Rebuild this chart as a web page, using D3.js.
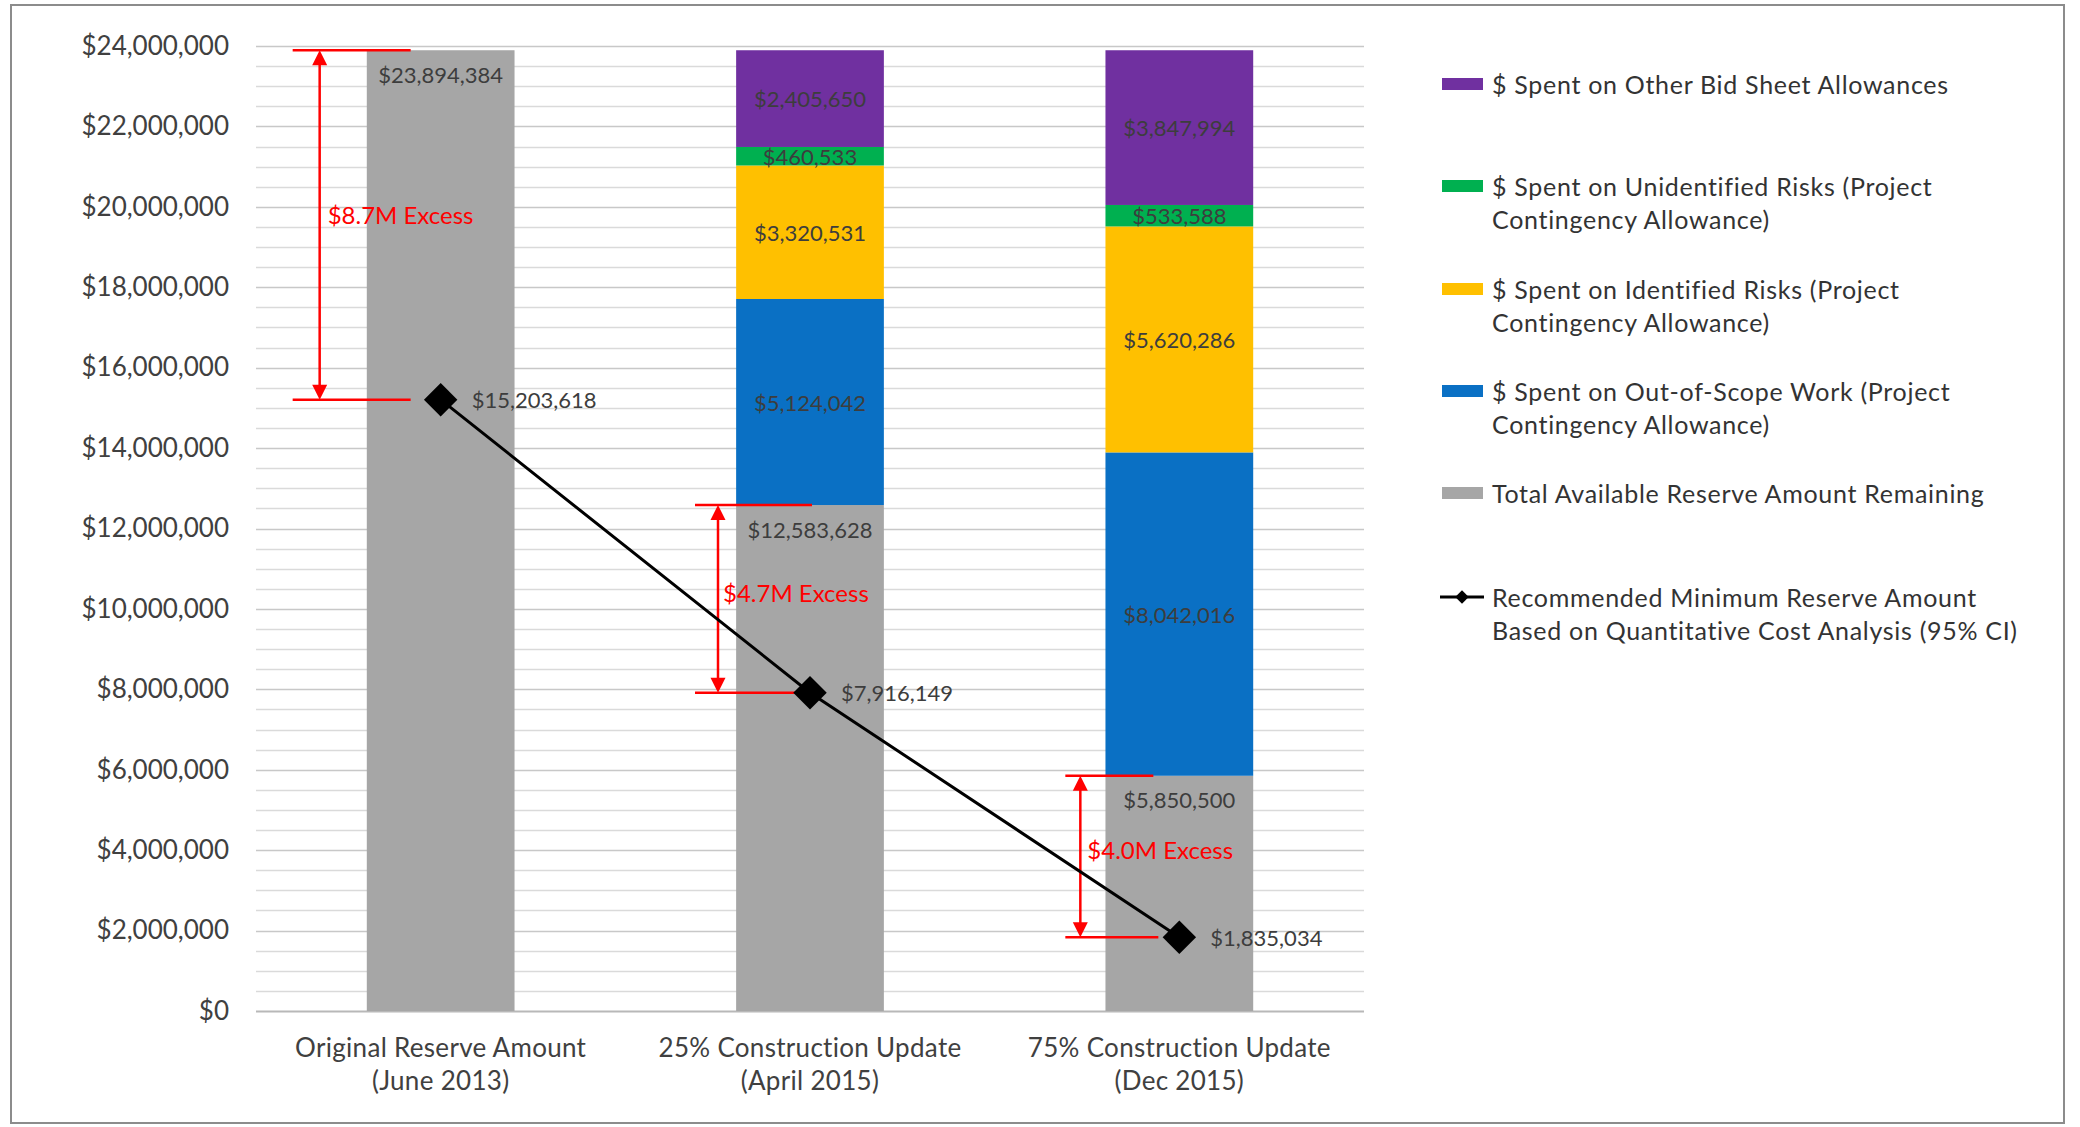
<!DOCTYPE html>
<html>
<head>
<meta charset="utf-8">
<script src="https://cdn.jsdelivr.net/npm/d3@7"></script>
<style>
  body { margin: 0; background: #fff; }
  svg { display: block; }
  text { font-family: Lato, "Open Sans", "DejaVu Sans", sans-serif; }
</style>
</head>
<body>
<svg id="chart" width="2080" height="1127"></svg>
<script>
// ---- data ----
const categories = [
  ["Original Reserve Amount", "(June 2013)"],
  ["25% Construction Update", "(April 2015)"],
  ["75% Construction Update", "(Dec 2015)"]
];
const remaining    = [23894384, 12583628, 5850500];
const outOfScope   = [0, 5124042, 8042016];
const identified   = [0, 3320531, 5620286];
const unidentified = [0, 460533, 533588];
const otherBid     = [0, 2405650, 3847994];
const recommended  = [15203618, 7916149, 1835034];

const yTicks = [0, 2e6, 4e6, 6e6, 8e6, 10e6, 12e6, 14e6, 16e6, 18e6, 20e6, 22e6, 24e6];

const seriesKeys   = ["remaining", "outOfScope", "identified", "unidentified", "otherBid"];
const seriesColors = ["#a6a6a6", "#0a70c4", "#ffc000", "#00b050", "#7030a0"];
const legendLabels = [
  ["$ Spent on Other Bid Sheet Allowances"],
  ["$ Spent on Unidentified Risks (Project", "Contingency Allowance)"],
  ["$ Spent on Identified Risks (Project", "Contingency Allowance)"],
  ["$ Spent on Out-of-Scope Work (Project", "Contingency Allowance)"],
  ["Total Available Reserve Amount Remaining"],
  ["Recommended Minimum Reserve Amount", "Based on Quantitative Cost Analysis (95% CI)"]
];

// ---- setup ----
const svg = d3.select("#chart");
const plot = { left: 256, right: 1364, top: 46, bottom: 1011 };

const rows = categories.map((c, i) => ({
  idx: i,
  remaining: remaining[i],
  outOfScope: outOfScope[i],
  identified: identified[i],
  unidentified: unidentified[i],
  otherBid: otherBid[i]
}));

const x = d3.scaleBand()
  .domain(d3.range(categories.length))
  .range([plot.left, plot.right])
  .paddingInner(0.6)
  .paddingOuter(0.3);

const y = d3.scaleLinear().domain([0, 24e6]).range([plot.bottom, plot.top]);
const cx = i => x(i) + x.bandwidth() / 2;
const money = d3.format("$,.0f");

// outer frame
svg.append("rect")
  .attr("x", 11).attr("y", 5).attr("width", 2053).attr("height", 1118)
  .attr("fill", "none").attr("stroke", "#8c8c8c").attr("stroke-width", 2);

// gridlines every $500K, heavier at labelled ticks
const gridVals = d3.range(0, 24e6 + 1, 5e5);
svg.append("g").selectAll("line")
  .data(gridVals)
  .join("line")
  .attr("x1", plot.left).attr("x2", plot.right)
  .attr("y1", d => Math.round(y(d)) + 0.5).attr("y2", d => Math.round(y(d)) + 0.5)
  .attr("stroke", d => d === 0 ? "#b8b8b8" : (d % 2e6 === 0 ? "#c8c8c8" : "#dadada"))
  .attr("stroke-width", d => d === 0 ? 2 : 1.5);

// y axis labels
const yAxis = d3.axisLeft(y).tickValues(yTicks).tickFormat(money).tickSize(0).tickPadding(0);
const yg = svg.append("g").attr("transform", `translate(229,0)`).call(yAxis);
yg.select(".domain").remove();
yg.selectAll("text")
  .attr("font-size", 26).attr("fill", "#404040")
  .style("font-family", "Lato, 'Open Sans', sans-serif");

// category labels
const xg = svg.append("g");
categories.forEach((lines, i) => {
  const t = xg.append("text")
    .attr("x", cx(i)).attr("y", 1047)
    .attr("text-anchor", "middle")
    .attr("font-size", 26).attr("letter-spacing", 0.3).attr("fill", "#404040");
  lines.forEach((ln, k) => {
    t.append("tspan").attr("x", cx(i)).attr("y", 1047 + k * 33)
      .attr("dominant-baseline", "central").text(ln);
  });
});

// stacked bars
const stacked = d3.stack().keys(seriesKeys)(rows);
const barG = svg.append("g");
stacked.forEach((layer, si) => {
  barG.append("g").attr("fill", seriesColors[si])
    .selectAll("rect")
    .data(layer.filter(d => d[1] - d[0] > 0))
    .join("rect")
    .attr("x", d => x(d.data.idx))
    .attr("width", x.bandwidth())
    .attr("y", d => y(d[1]))
    .attr("height", d => y(d[0]) - y(d[1]));
});

// segment value labels
const labG = svg.append("g").attr("font-size", 22).attr("fill", "#3d3d3d").attr("text-anchor", "middle");
stacked.forEach((layer, si) => {
  layer.filter(d => d[1] - d[0] > 0).forEach(d => {
    const v = d[1] - d[0];
    // remaining amount sits at the inside top of its segment, others centred
    const ly = si === 0 ? y(d[1]) + 24 : (y(d[0]) + y(d[1])) / 2;
    labG.append("text")
      .attr("x", cx(d.data.idx)).attr("y", ly)
      .attr("dominant-baseline", "central")
      .text(money(v));
  });
});

// excess annotations (red dimension arrows)
const annLayout = [
  { top: -148, topEnd: -30, bot: -148, botEnd: -30, vx: -121, tx: -113, dy: -10 },
  { top: -115, topEnd: 2,   bot: -115, botEnd: 2,   vx: -92,  tx: -87,  dy: -6 },
  { top: -114, topEnd: -26, bot: -114, botEnd: -21, vx: -99,  tx: -92,  dy: -7 }
];
const red = "#ff0000";
const annG = svg.append("g");
annLayout.forEach((a, i) => {
  const c = cx(i);
  const yTop = y(remaining[i]);
  const yBot = y(recommended[i]);
  annG.append("line").attr("x1", c + a.top).attr("x2", c + a.topEnd)
    .attr("y1", yTop).attr("y2", yTop).attr("stroke", red).attr("stroke-width", 2.5);
  annG.append("line").attr("x1", c + a.bot).attr("x2", c + a.botEnd)
    .attr("y1", yBot).attr("y2", yBot).attr("stroke", red).attr("stroke-width", 2.5);
  const vx = c + a.vx;
  annG.append("line").attr("x1", vx).attr("x2", vx)
    .attr("y1", yTop + 10).attr("y2", yBot - 10).attr("stroke", red).attr("stroke-width", 2.5);
  const ah = 15, aw = 7.5;
  annG.append("path")
    .attr("d", `M${vx},${yTop} L${vx - aw},${yTop + ah} L${vx + aw},${yTop + ah} Z`).attr("fill", red);
  annG.append("path")
    .attr("d", `M${vx},${yBot} L${vx - aw},${yBot - ah} L${vx + aw},${yBot - ah} Z`).attr("fill", red);
  const excess = (remaining[i] - recommended[i]) / 1e6;
  annG.append("text")
    .attr("x", c + a.tx).attr("y", (yTop + yBot) / 2 + a.dy)
    .attr("dominant-baseline", "central")
    .attr("font-size", 24).attr("fill", red)
    .text(`$${d3.format(".1f")(excess)}M Excess`);
});

// recommended minimum reserve line
const line = d3.line().x((d, i) => cx(i)).y(d => y(d));
svg.append("path")
  .datum(recommended)
  .attr("d", line)
  .attr("fill", "none").attr("stroke", "#000").attr("stroke-width", 3);
const diamond = d3.symbol(d3.symbolSquare, 560);
svg.append("g").selectAll("path")
  .data(recommended)
  .join("path")
  .attr("d", diamond)
  .attr("transform", (d, i) => `translate(${cx(i)},${y(d)}) rotate(45)`)
  .attr("fill", "#000");
svg.append("g").attr("font-size", 22).attr("fill", "#3d3d3d")
  .selectAll("text")
  .data(recommended)
  .join("text")
  .attr("x", (d, i) => cx(i) + 31)
  .attr("y", d => y(d))
  .attr("dominant-baseline", "central")
  .text(d => money(d));

// legend
const legendRows = [
  { color: seriesColors[4], y: 84 },
  { color: seriesColors[3], y: 186 },
  { color: seriesColors[2], y: 289 },
  { color: seriesColors[1], y: 391 },
  { color: seriesColors[0], y: 493 },
  { color: null, y: 597 }
];
const lg = svg.append("g");
legendRows.forEach((r, k) => {
  if (r.color) {
    lg.append("rect").attr("x", 1442).attr("y", r.y - 6).attr("width", 41).attr("height", 12)
      .attr("fill", r.color);
  } else {
    lg.append("line").attr("x1", 1440).attr("x2", 1484).attr("y1", r.y).attr("y2", r.y)
      .attr("stroke", "#000").attr("stroke-width", 3);
    lg.append("path").attr("d", d3.symbol(d3.symbolSquare, 90)())
      .attr("transform", `translate(1462,${r.y}) rotate(45)`).attr("fill", "#000");
  }
  legendLabels[k].forEach((ln, j) => {
    lg.append("text")
      .attr("x", 1492).attr("y", r.y + j * 33)
      .attr("dominant-baseline", "central")
      .attr("font-size", 25).attr("letter-spacing", 0.7).attr("fill", "#333")
      .text(ln);
  });
});
</script>
</body>
</html>
